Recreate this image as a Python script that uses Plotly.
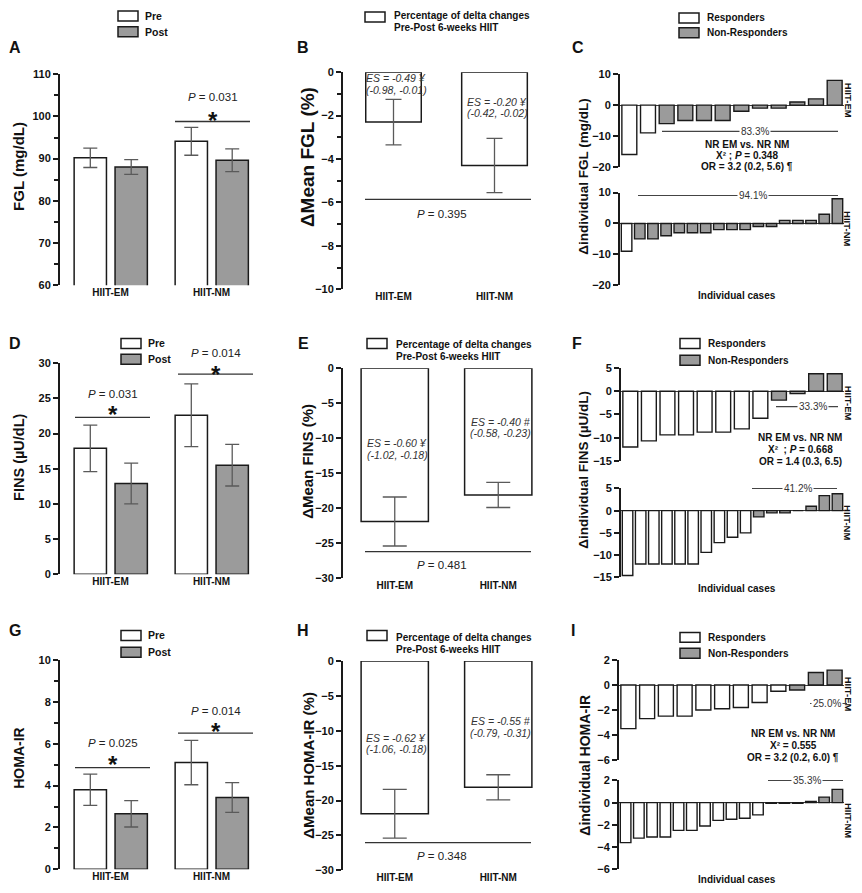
import plotly.graph_objects as go

# reference canvas is 862 x 893; the page body adds an 8px margin, so the
# figure is drawn 8px smaller and every reference pixel position is shifted
W, H = 862, 893
OFF = 8
FW, FH = W - OFF, H - OFF
FONT = "Liberation Sans, Arial, sans-serif"
GRAY = "#9b9b9b"
EDGE = "#1a1a1a"
ERRC = "#5a5a5a"

GROUPS = ["HIIT-EM", "HIIT-NM"]

# ── FGL ──────────────────────────────────────────────────────────────
FGL_PRE = [90.2, 94.1]
FGL_PRE_ERR = [2.3, 3.3]
FGL_POST = [88.0, 89.6]
FGL_POST_ERR = [1.75, 2.7]
FGL_DELTA = [-2.3, -4.3]
FGL_DELTA_ERR = [1.05, 1.25]
FGL_EM_IND = [-16, -9, -6, -5, -5, -5, -2, -1, -1, 1, 2, 8]
FGL_EM_RESP = 2
FGL_NM_IND = [-9, -5, -5, -4, -3, -3, -3, -2, -2, -2, -1, -1, 1, 1, 1, 3, 8]
FGL_NM_RESP = 1

# ── FINS ─────────────────────────────────────────────────────────────
FINS_PRE = [17.9, 22.6]
FINS_PRE_ERR = [3.3, 4.45]
FINS_POST = [12.9, 15.5]
FINS_POST_ERR = [2.9, 2.95]
FINS_DELTA = [-21.9, -18.1]
FINS_DELTA_ERR = [3.5, 1.8]
FINS_EM_IND = [-12, -10.7, -9.4, -9.4, -8.8, -8.8, -8.1, -5.8, -1.9, -0.5, 3.8, 3.8]
FINS_EM_RESP = 8
FINS_NM_IND = [-14.6, -12, -12, -12, -12, -12, -9.4, -7.2, -6, -5,
               -1.4, -0.5, -0.5, 0, 1.0, 3.4, 3.8]
FINS_NM_RESP = 10

# ── HOMA-IR ──────────────────────────────────────────────────────────
HOMA_PRE = [3.8, 5.1]
HOMA_PRE_ERR = [0.75, 1.06]
HOMA_POST = [2.65, 3.43]
HOMA_POST_ERR = [0.63, 0.71]
HOMA_DELTA = [-21.9, -18.1]
HOMA_DELTA_ERR = [3.5, 1.8]
HOMA_EM_IND = [-3.5, -2.7, -2.5, -2.5, -2.0, -1.9, -1.8, -1.4, -0.5, -0.4, 1.0, 1.2]
HOMA_EM_RESP = 9
HOMA_NM_IND = [-3.6, -3.2, -3.1, -3.1, -2.5, -2.5, -2.1, -1.6, -1.5, -1.4, -1.1,
               -0.05, -0.05, -0.05, 0.1, 0.5, 1.2]
HOMA_NM_RESP = 11


def px(x):
    return (x - OFF) / FW


def py(y):
    return 1 - (y - OFF) / FH


fig = go.Figure()
axes = {}
annotations = []
shapes = []


def text(x, y, s, size=10, bold=False, italic=False, color="#111",
         xanchor="center", angle=0, bg=None):
    if italic:
        s = f"<i>{s}</i>"
    a = dict(x=px(x), y=py(y), xref="paper", yref="paper", text=s,
             showarrow=False, xanchor=xanchor, yanchor="middle",
             textangle=angle,
             font=dict(family=FONT, size=size, color=color,
                       weight="bold" if bold else "normal"))
    if bg:
        a.update(bgcolor=bg, borderpad=1)
    annotations.append(a)


def hline(x0, x1, y, color="#333", width=1.3):
    shapes.append(dict(type="line", xref="paper", yref="paper",
                       x0=px(x0), x1=px(x1), y0=py(y), y1=py(y),
                       line=dict(color=color, width=width)))


def box(x0, y0, x1, y1, fill):
    shapes.append(dict(type="rect", xref="paper", yref="paper",
                       x0=px(x0), x1=px(x1), y0=py(y1), y1=py(y0),
                       fillcolor=fill, line=dict(color=EDGE, width=1.5)))


def add_axes(n, xdom, ydom, yrange, dtick, minor=None, n_cat=None,
             category=True, zeroline=False):
    xk = "xaxis" if n == 1 else f"xaxis{n}"
    yk = "yaxis" if n == 1 else f"yaxis{n}"
    xa = dict(domain=[px(xdom[0]), px(xdom[1])], anchor=f"y{'' if n == 1 else n}",
              showline=False, ticks="", showgrid=False, zeroline=False,
              tickfont=dict(family=FONT, size=10, color="#111", weight="bold"))
    if category:
        xa.update(type="category", range=[-0.5, 1.5])
    else:
        xa.update(range=[-0.5, n_cat - 0.5], showticklabels=False)
    ya = dict(domain=[py(ydom[1]), py(ydom[0])], anchor=f"x{'' if n == 1 else n}",
              range=yrange, dtick=dtick, showline=True, linecolor=EDGE,
              linewidth=2, ticks="outside", ticklen=5, tickwidth=1.5,
              tickcolor=EDGE, showgrid=False, zeroline=zeroline,
              zerolinecolor="#3a3a3a", zerolinewidth=1.4,
              tickfont=dict(family=FONT, size=11, color="#111", weight="bold"))
    if minor:
        ya["minor"] = dict(dtick=minor, ticks="outside", ticklen=4,
                           tickwidth=1.5, tickcolor=EDGE)
    axes[xk] = xa
    axes[yk] = ya


def err(arr, w):
    return dict(type="data", array=arr, color=ERRC, thickness=1.3, width=w)


def prepost(n, pre, pre_err, post, post_err):
    ax = "" if n == 1 else str(n)
    fig.add_bar(x=GROUPS, y=pre, error_y=err(pre_err, 7), width=0.32, offset=-0.36,
                marker=dict(color="white", line=dict(color=EDGE, width=1.5)),
                xaxis=f"x{ax}", yaxis=f"y{ax}", showlegend=False)
    fig.add_bar(x=GROUPS, y=post, error_y=err(post_err, 7), width=0.32, offset=0.045,
                marker=dict(color=GRAY, line=dict(color=EDGE, width=1.5)),
                xaxis=f"x{ax}", yaxis=f"y{ax}", showlegend=False)


def delta(n, vals, errs, widths, capw):
    fig.add_bar(x=GROUPS, y=vals, error_y=err(errs, capw), width=widths,
                marker=dict(color="white", line=dict(color=EDGE, width=1.5)),
                xaxis=f"x{n}", yaxis=f"y{n}", showlegend=False)


def individual(n, vals, n_resp):
    colors = ["white"] * n_resp + [GRAY] * (len(vals) - n_resp)
    fig.add_bar(y=vals, width=0.8,
                marker=dict(color=colors, line=dict(color=EDGE, width=1.4)),
                xaxis=f"x{n}", yaxis=f"y{n}", showlegend=False)


def legend_prepost(x, y0, y1):
    box(x, y0 - 5, x + 20, y0 + 5, "white")
    box(x, y1 - 5, x + 20, y1 + 5, GRAY)
    text(x + 25, y0, "Pre", size=10.5, bold=True, xanchor="left")
    text(x + 25, y1, "Post", size=10.5, bold=True, xanchor="left")


def legend_delta(x, yb, y0, y1):
    box(x, yb - 5, x + 20, yb + 5, "white")
    text(x + 27, y0, "Percentage of delta changes", size=10, bold=True, xanchor="left")
    text(x + 27, y1, "Pre-Post 6-weeks HIIT", size=10, bold=True, xanchor="left")


def legend_resp(x, y0, y1):
    box(x, y0 - 5, x + 20, y0 + 5, "white")
    box(x, y1 - 5, x + 20, y1 + 5, GRAY)
    text(x + 26, y0, "Responders", size=10, bold=True, xanchor="left")
    text(x + 26, y1, "Non-Responders", size=10, bold=True, xanchor="left")


def signif(x0, x1, yline, ytext, ystar, p):
    hline(x0, x1, yline, color="#333", width=1.3)
    xc = (x0 + x1) / 2
    text(xc, ytext, f"<i>P</i> = {p}", size=11.5, color="#222")
    text(xc, ystar + 6, "*", size=24, bold=True, color="#111")


def percent_line(x0, x1, xt, y, label):
    hline(x0, x1, y, color="#444", width=1.1)
    text(xt, y, label, size=10, color="#333", bg="white")


# ── Row 1 ────────────────────────────────────────────────────────────
add_axes(1, (60, 262), (69, 283), [60, 110], 10, minor=5)
prepost(1, FGL_PRE, FGL_PRE_ERR, FGL_POST, FGL_POST_ERR)
add_axes(2, (343, 545), (67, 287), [-10, 0], 2, minor=1)
delta(2, FGL_DELTA, FGL_DELTA_ERR, [0.55, 0.65], 8)
add_axes(3, (620, 844), (69, 163), [-20, 10], 10, n_cat=len(FGL_EM_IND),
         category=False, zeroline=True)
individual(3, FGL_EM_IND, FGL_EM_RESP)
add_axes(4, (620, 844), (189, 283), [-20, 10], 10, n_cat=len(FGL_NM_IND),
         category=False, zeroline=True)
individual(4, FGL_NM_IND, FGL_NM_RESP)

# ── Row 2 ────────────────────────────────────────────────────────────
add_axes(5, (60, 262), (362, 576), [0, 30], 5)
prepost(5, FINS_PRE, FINS_PRE_ERR, FINS_POST, FINS_POST_ERR)
add_axes(6, (343, 550), (367, 580), [-30, 0], 5)
delta(6, FINS_DELTA, FINS_DELTA_ERR, [0.65, 0.65], 12)
add_axes(7, (621, 844), (367, 461), [-15, 5], 5, n_cat=len(FINS_EM_IND),
         category=False, zeroline=True)
individual(7, FINS_EM_IND, FINS_EM_RESP)
add_axes(8, (621, 844), (489, 579), [-15, 5], 5, n_cat=len(FINS_NM_IND),
         category=False, zeroline=True)
individual(8, FINS_NM_IND, FINS_NM_RESP)

# ── Row 3 ────────────────────────────────────────────────────────────
add_axes(9, (60, 262), (663, 875), [0, 10], 2, minor=1)
prepost(9, HOMA_PRE, HOMA_PRE_ERR, HOMA_POST, HOMA_POST_ERR)
add_axes(10, (343, 550), (664, 876), [-30, 0], 5)
delta(10, HOMA_DELTA, HOMA_DELTA_ERR, [0.65, 0.65], 12)
add_axes(11, (619, 844), (663, 764), [-6, 2], 2, n_cat=len(HOMA_EM_IND),
         category=False, zeroline=True)
individual(11, HOMA_EM_IND, HOMA_EM_RESP)
add_axes(12, (619, 844), (785, 875), [-6, 2], 2, n_cat=len(HOMA_NM_IND),
         category=False, zeroline=True)
individual(12, HOMA_NM_IND, HOMA_NM_RESP)

# ── panel letters ────────────────────────────────────────────────────
for letter, x, y in [("A", 15, 42), ("B", 303, 42), ("C", 578, 42),
                     ("D", 15, 342), ("E", 303, 342), ("F", 577, 342),
                     ("G", 15, 633), ("H", 303, 633), ("I", 573, 633)]:
    text(x, y, letter, size=16, bold=True)

# ── y-axis titles ────────────────────────────────────────────────────
for x, y, s, size in [(19, 163, "FGL (mg/dL)", 15),
                      (307, 153, "ΔMean FGL (%)", 19),
                      (584, 173, "Δindividual FGL (mg/dL)", 13.5),
                      (19, 458, "FINS (µU/dL)", 14.5),
                      (308, 462, "ΔMean FINS (%)", 15),
                      (584, 470, "Δindividual FINS (µU/dL)", 13.5),
                      (19, 763, "HOMA-IR", 14),
                      (309, 770, "ΔMean HOMA-IR (%)", 15),
                      (585, 770, "Δindividual HOMA-IR", 14)]:
    text(x, y, s, size=size, bold=True, angle=-90)

# ── legends ──────────────────────────────────────────────────────────
legend_prepost(118, 10, 26)
legend_delta(365, 11, 10, 22)
legend_resp(679, 12, 27)
legend_prepost(121, 342, 358)
legend_delta(367, 342, 343, 355)
legend_resp(680, 342, 359)
legend_prepost(121, 638, 655)
legend_delta(367, 638, 640, 652)
legend_resp(680, 640, 656)

# ── significance brackets (pre vs post) ──────────────────────────────
signif(175, 250, 117, 92, 110, "0.031")
signif(75, 150, 417, 393, 408, "0.031")
signif(178, 253, 373, 352, 367, "0.014")
signif(75, 150, 772, 747, 763, "0.025")
signif(178, 253, 737, 715, 729, "0.014")

# ── delta panels: between-group P and effect sizes ───────────────────
for y_line, y_txt, p in [(196, 211, "0.395"), (553, 567, "0.481"), (848, 862, "0.348")]:
    hline(365, 531, y_line, color="#333", width=1.3)
    text(442, y_txt, f"<i>P</i> = {p}", size=11.5, color="#222")

for x, y, s in [(396, 73, "ES = -0.49 ¥"), (396, 85, "(-0.98, -0.01)"),
                (497, 97, "ES = -0.20 ¥"), (497, 108, "(-0.42, -0.02)"),
                (397, 443, "ES = -0.60 ¥"), (397, 455, "(-1.02, -0.18)"),
                (500, 422, "ES = -0.40 #"), (500, 433, "(-0.58, -0.23)"),
                (396, 742, "ES = -0.62 ¥"), (396, 753, "(-1.06, -0.18)"),
                (500, 725, "ES = -0.55 #"), (500, 737, "(-0.79, -0.31)")]:
    text(x, y, s, size=10.5, italic=True, color="#333")

# ── individual panels: percent lines, stats, side labels ─────────────
percent_line(662, 838, 755, 127, "83.3%")
percent_line(638, 838, 753, 192, "94.1%")
percent_line(776, 838, 813, 406, "33.3%")
percent_line(752, 837, 798, 489, "41.2%")
percent_line(810, 847, 827, 707, "25.0%")
percent_line(768, 843, 807, 785, "35.3%")

for x, ys, lines in [
        (747, (140, 151, 163), ["NR EM vs. NR NM", "X² ; <i>P</i> = 0.348",
                                "OR = 3.2 (0.2, 5.6) ¶"]),
        (800, (437, 449, 462), ["NR EM vs. NR NM", "X²  ; <i>P</i> = 0.668",
                                "OR = 1.4 (0.3, 6.5)"]),
        (793, (737, 750, 762), ["NR EM vs. NR NM", "X² = 0.555",
                                "OR = 3.2 (0.2, 6.0) ¶"])]:
    for y, s in zip(ys, lines):
        text(x, y, s, size=10, bold=True, color="#111")

# rotated labels render a few px right of their anchor, so anchor a bit left
for y, s in [(95, "HIIT-EM"), (225, "HIIT-NM"), (402, "HIIT-EM"),
             (523, "HIIT-NM"), (697, "HIIT-EM"), (825, "HIIT-NM")]:
    text(848, y, s, size=9.5, bold=True, angle=90)

for y in (293, 590, 885):
    text(737, y, "Individual cases", size=10, bold=True)

fig.update_layout(
    width=FW, height=FH,
    margin=dict(l=0, r=0, t=0, b=0),
    paper_bgcolor="white", plot_bgcolor="white",
    barmode="overlay",
    font=dict(family=FONT, color="#111"),
    annotations=annotations,
    shapes=shapes,
    **axes,
)
fig.write_html("out.html")
